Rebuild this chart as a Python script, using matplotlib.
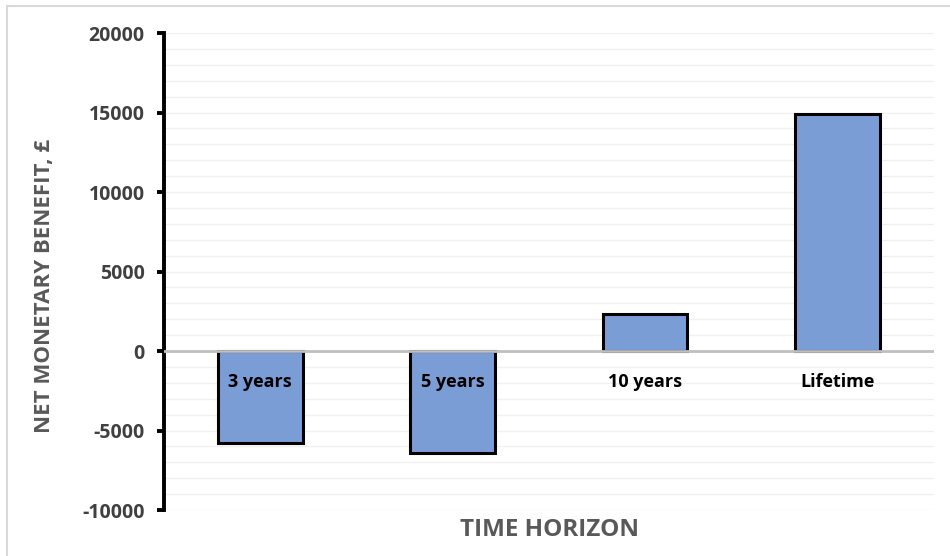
import matplotlib
matplotlib.use("Agg")
import matplotlib.pyplot as plt
from matplotlib.lines import Line2D
from matplotlib.ticker import MultipleLocator

categories = ["3 years", "5 years", "10 years", "Lifetime"]
net_benefit = [-5800, -6430, 2350, 14900]
y_ticks = [-10000, -5000, 0, 5000, 10000, 15000, 20000]

plt.rcParams["font.family"] = ["Open Sans", "DejaVu Sans"]

fig = plt.figure(figsize=(9.5, 5.56), dpi=100)
ax = fig.add_axes([0.1726, 0.0827, 0.8104, 0.8579])

x = range(len(categories))
ax.bar(x, net_benefit, width=0.44, color="#7b9dd6", edgecolor="black",
       linewidth=2.2, zorder=3)

ax.set_xlim(-0.5, len(categories) - 0.5)
ax.set_ylim(-10000, 20000)
ax.set_yticks(y_ticks)
ax.set_yticklabels([str(v) for v in y_ticks])
ax.yaxis.set_minor_locator(MultipleLocator(1000))
ax.grid(axis="y", which="both", color="#f0f0f0", linewidth=1.0, zorder=0)
ax.set_xticks([])

# zero line
ax.axhline(0, color="#bfbfbf", linewidth=2.0, zorder=4)

for s in ["top", "right", "bottom"]:
    ax.spines[s].set_visible(False)
ax.spines["left"].set_linewidth(2.8)
ax.spines["left"].set_color("black")
ax.tick_params(axis="y", which="major", direction="out", length=5, width=2.8,
               color="black", labelsize=14, labelcolor="#404040", pad=9)
ax.tick_params(axis="y", which="minor", length=0)
for lbl in ax.get_yticklabels():
    lbl.set_fontweight("bold")

# category labels just below the zero line
for xi, name in zip(x, categories):
    ax.annotate(name, xy=(xi, 0), xytext=(0, -22), textcoords="offset points",
                ha="center", va="center", fontsize=13, fontweight="bold",
                color="black", zorder=5)

ax.set_ylabel("NET MONETARY BENEFIT, \u00a3", fontsize=16, fontweight="bold",
              color="#595959")
ax.yaxis.set_label_coords(-0.142, 0.47)
fig.text(0.578, 0.047, "TIME HORIZON", ha="center", va="center",
         fontsize=17.5, fontweight="bold", color="#595959")

# light frame on top and left edges
fig.add_artist(Line2D([0.0074, 1.0], [0.989, 0.989], color="#d9d9d9",
                      linewidth=1.5, transform=fig.transFigure))
fig.add_artist(Line2D([0.0074, 0.0074], [0.0, 0.989], color="#d9d9d9",
                      linewidth=1.5, transform=fig.transFigure))

fig.savefig("out.png", dpi=100, facecolor="white")
